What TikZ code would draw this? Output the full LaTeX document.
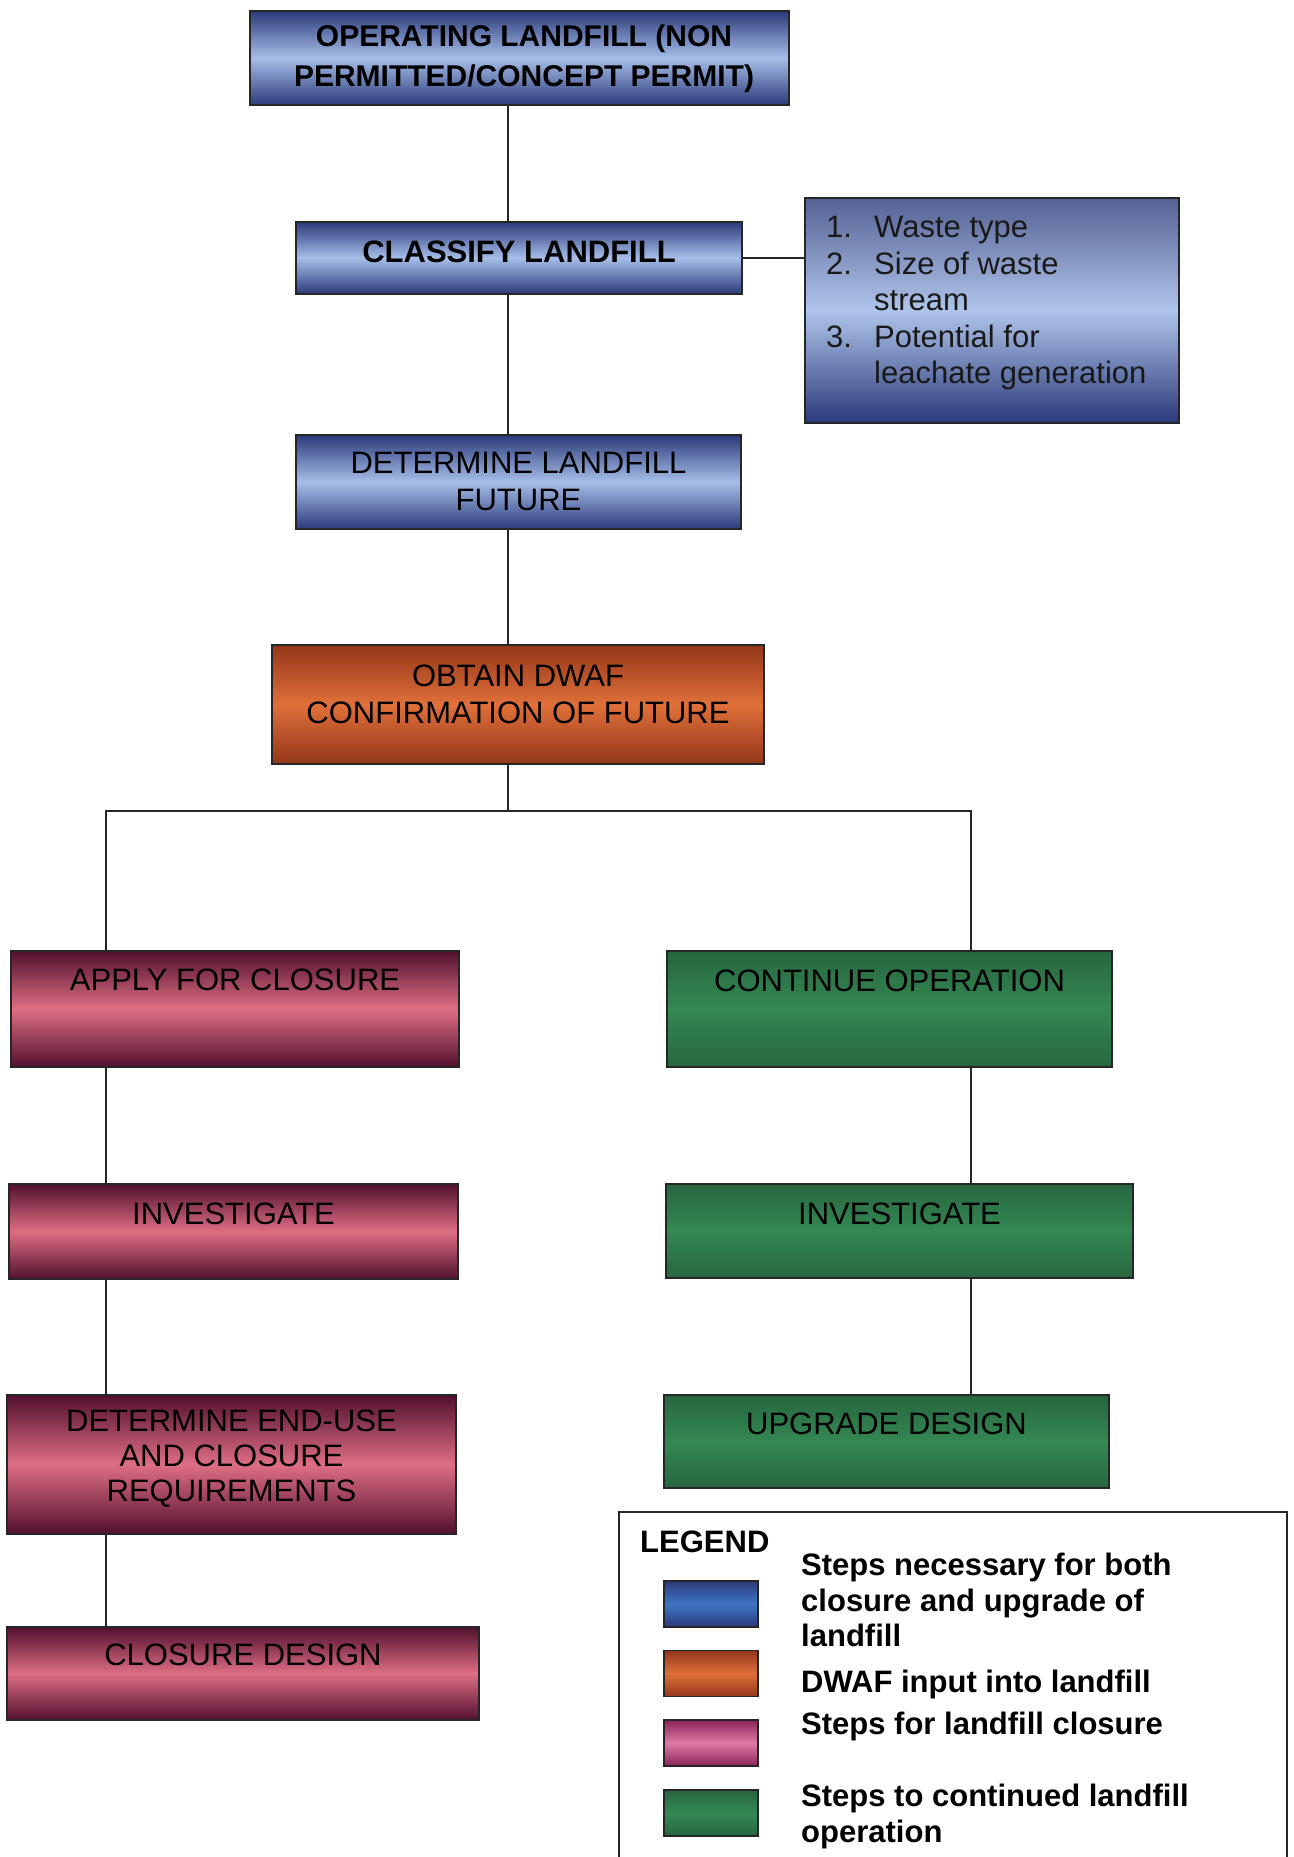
\documentclass[tikz,border=0pt]{standalone}
\usepackage{fontspec}
\setmainfont{Liberation Sans}

\definecolor{bluedark}{HTML}{2B3A7A}
\definecolor{bluelight}{HTML}{A6BEE8}
\definecolor{bluekey}{HTML}{3F75C4}
\definecolor{orangedark}{HTML}{93361A}
\definecolor{orangelight}{HTML}{E0703A}
\definecolor{pinkdark}{HTML}{52102E}
\definecolor{pinklight}{HTML}{DE6E84}
\definecolor{pinkkeydark}{HTML}{8A2458}
\definecolor{pinkkey}{HTML}{E07AA4}
\definecolor{greendark}{HTML}{276640}
\definecolor{greenlight}{HTML}{348852}

\tikzset{
  box/.style={draw=black!85, line width=2pt, inner sep=0pt},
  bluebox/.style={box, top color=bluedark, bottom color=bluedark, middle color=bluelight},
  orangebox/.style={box, top color=orangedark, bottom color=orangedark, middle color=orangelight},
  pinkbox/.style={box, top color=pinkdark, bottom color=pinkdark, middle color=pinklight},
  greenbox/.style={box, top color=greendark, bottom color=greendark, middle color=greenlight},
  boxtext/.style={font=\fontsize{31}{37}\selectfont, align=center, inner sep=0pt},
  boldtext/.style={boxtext, font=\fontsize{30}{40}\selectfont\bfseries},
  listtext/.style={font=\fontsize{31}{36.5}\selectfont, align=left, inner sep=0pt, anchor=north west},
  keytext/.style={font=\fontsize{31}{35.5}\selectfont\bfseries, align=left, inner sep=0pt, anchor=north west},
  swatch/.style={box, line width=1.6pt, minimum width=94, minimum height=46},
  link/.style={line width=1.6pt, black!85}
}

\begin{document}
\begin{tikzpicture}[x=1pt,y=-1pt]
   \useasboundingbox (0,0) rectangle (1293,1857);
   % steps for both closure and upgrade
   \node[bluebox, minimum width=539, minimum height=94] (operate) at (519.5,58) {};
   \node[boldtext] (operate-t) at (524,59) {OPERATING LANDFILL (NON\\PERMITTED/CONCEPT PERMIT)};
   \node[bluebox, minimum width=446, minimum height=72] (classify) at (519,258) {};
   \node[boldtext, font=\fontsize{31}{37}\selectfont\bfseries] (classify-t) at (519,252) {CLASSIFY LANDFILL};
   \node[bluebox, top color=bluedark!80, middle color=bluelight!90!white, minimum width=374, minimum height=225] (list) at (992,310.5) {};
   \node[listtext, text=black!90] (list-t) at (826,216) {\makebox[48pt][l]{1.}Waste type\\
      \makebox[48pt][l]{2.}Size of waste\\
      \hspace*{48pt}stream\\
      \makebox[48pt][l]{3.}Potential for\\
      \hspace*{48pt}leachate generation};
   \node[bluebox, minimum width=445, minimum height=94] (determine) at (518.5,482) {};
   \node[boxtext] (determine-t) at (518.5,481) {DETERMINE LANDFILL\\FUTURE};
   % dwaf input
   \node[orangebox, minimum width=492, minimum height=119] (obtain) at (518,704.5) {};
   \node[boxtext] (obtain-t) at (518,694) {OBTAIN DWAF\\CONFIRMATION OF FUTURE};
   % closure branch
   \node[pinkbox, minimum width=448, minimum height=116] (apply) at (235,1009) {};
   \node[boxtext] (apply-t) at (235,980) {APPLY FOR CLOSURE};
   \node[pinkbox, minimum width=449, minimum height=95] (invl) at (233.5,1231.5) {};
   \node[boxtext] (invl-t) at (233.5,1214) {INVESTIGATE};
   \node[pinkbox, minimum width=449, minimum height=139] (enduse) at (231.5,1464.5) {};
   \node[boxtext, font=\fontsize{31}{35}\selectfont] (enduse-t) at (231.5,1459) {DETERMINE END-USE\\AND CLOSURE\\REQUIREMENTS};
   \node[pinkbox, minimum width=472, minimum height=93] (cdesign) at (243,1673.5) {};
   \node[boxtext] (cdesign-t) at (243,1655) {CLOSURE DESIGN};
   % operation branch
   \node[greenbox, minimum width=445, minimum height=116] (cont) at (889.5,1009) {};
   \node[boxtext] (cont-t) at (889.5,981) {CONTINUE OPERATION};
   \node[greenbox, minimum width=467, minimum height=94] (invr) at (899.5,1231) {};
   \node[boxtext] (invr-t) at (899.5,1214) {INVESTIGATE};
   \node[greenbox, minimum width=445, minimum height=93] (upgrade) at (886.5,1441.5) {};
   \node[boxtext] (upgrade-t) at (886.5,1424) {UPGRADE DESIGN};

   % connectors
   \coordinate (spine) at (508,0);
   \coordinate (lcol) at (106,811);
   \coordinate (rcol) at (971,811);
   \draw[link] (operate.south -| spine) -- (classify.north -| spine);
   \draw[link] (classify.south -| spine) -- (determine.north -| spine);
   \draw[link] (determine.south -| spine) -- (obtain.north -| spine);
   \draw[link] (obtain.south -| spine) -- (spine |- lcol);
   \draw[link] (classify.east) -- (classify.east -| list.west);
   \draw[link] (apply.north -| lcol) -- (lcol) -- (rcol) -- (cont.north -| rcol);
   \draw[link] (apply.south -| lcol) -- (invl.north -| lcol);
   \draw[link] (invl.south -| lcol) -- (enduse.north -| lcol);
   \draw[link] (enduse.south -| lcol) -- (cdesign.north -| lcol);
   \draw[link] (cont.south -| rcol) -- (invr.north -| rcol);
   \draw[link] (invr.south -| rcol) -- (upgrade.north -| rcol);

   % legend
   \draw[link] (619,1857) |- (1287,1512) -- (1287,1857);
   \node[keytext] (legend-t) at (640,1531) {LEGEND};
   \node[swatch, top color=bluedark, bottom color=bluedark, middle color=bluekey] (key-both) at (711,1604) {};
   \node[swatch, top color=orangedark, bottom color=orangedark, middle color=orangelight] (key-dwaf) at (711,1673.5) {};
   \node[swatch, top color=pinkkeydark, bottom color=pinkkeydark, middle color=pinkkey] (key-close) at (711,1743) {};
   \node[swatch, top color=greendark, bottom color=greendark, middle color=greenlight] (key-oper) at (711,1813) {};
   \node[keytext] (key-both-t) at (801,1553) {Steps necessary for both\\closure and upgrade of\\landfill};
   \node[keytext] (key-dwaf-t) at (801,1670) {DWAF input into landfill};
   \node[keytext] (key-close-t) at (801,1712) {Steps for landfill closure};
   \node[keytext] (key-oper-t) at (801,1784) {Steps to continued landfill\\operation};
\end{tikzpicture}
\end{document}
